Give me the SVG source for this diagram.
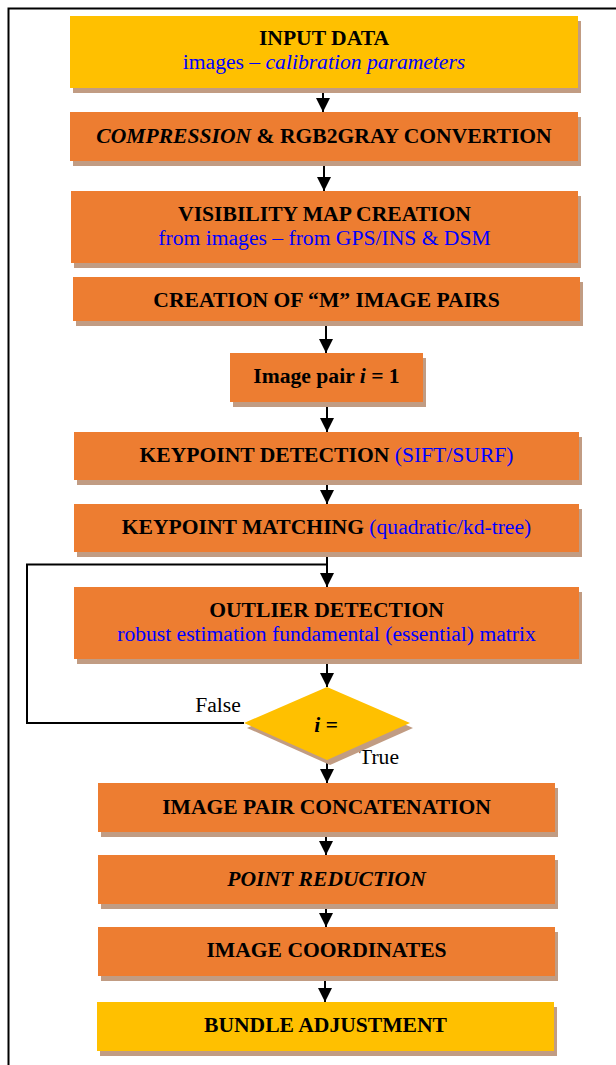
<svg xmlns="http://www.w3.org/2000/svg" width="616" height="1065" viewBox="0 0 616 1065">
<defs>
<style>
text{font-family:"Liberation Serif","Times New Roman",serif;font-size:21.6px;text-anchor:middle;fill:#000}
.b{font-weight:bold}
.i{font-style:italic}
.blue{fill:#0000ff}
.y{fill:#ffc000}
.o{fill:#ed7d31}
.sh{fill:#c19c83}
.ln{fill:none;stroke:#000;stroke-width:2}
</style>
<marker id="ah" markerUnits="userSpaceOnUse" markerWidth="14" markerHeight="14" refX="14" refY="7" orient="auto">
<path d="M0,0 L14,7 L0,14 z" fill="#000"/>
</marker>
</defs>
<rect width="616" height="1065" fill="#fff"/>
<path class="ln" d="M8.5,1065 V8.5 H616"/>

<g id="connectors">
<line class="ln" x1="323" y1="88" x2="323" y2="112" marker-end="url(#ah)"/>
<line class="ln" x1="324" y1="161" x2="324" y2="191" marker-end="url(#ah)"/>
<line class="ln" x1="326" y1="321" x2="326" y2="353" marker-end="url(#ah)"/>
<line class="ln" x1="327" y1="402" x2="327" y2="432" marker-end="url(#ah)"/>
<line class="ln" x1="327" y1="480" x2="327" y2="504" marker-end="url(#ah)"/>
<line class="ln" x1="327" y1="552" x2="327" y2="587" marker-end="url(#ah)"/>
<line class="ln" x1="327" y1="659" x2="327" y2="687" marker-end="url(#ah)"/>
<polyline class="ln" points="244,723 27,723 27,564.5 327,564.5"/>
<line class="ln" x1="327" y1="760" x2="327" y2="783" marker-end="url(#ah)"/>
<line class="ln" x1="326" y1="832" x2="326" y2="855" marker-end="url(#ah)"/>
<line class="ln" x1="326" y1="904" x2="326" y2="927" marker-end="url(#ah)"/>
<line class="ln" x1="325" y1="976" x2="325" y2="1002" marker-end="url(#ah)"/>
<text x="218" y="712">False</text>
<text x="379" y="764">True</text>
</g>

<g id="input-data">
<rect class="sh" x="73" y="21" width="508" height="72"/>
<rect class="y" x="70" y="16" width="508" height="72"/>
<text class="b" x="324" y="45">INPUT DATA</text>
<text class="blue" x="324" y="69">images – <tspan class="i">calibration parameters</tspan></text>
</g>

<g id="compression">
<rect class="sh" x="73" y="117" width="508" height="49"/>
<rect class="o" x="70" y="112" width="508" height="49"/>
<text class="b" x="324" y="143"><tspan class="i">COMPRESSION</tspan> &amp; RGB2GRAY CONVERTION</text>
</g>

<g id="visibility">
<rect class="sh" x="74" y="196" width="507" height="72"/>
<rect class="o" x="71" y="191" width="507" height="72"/>
<text class="b" x="324.5" y="221">VISIBILITY MAP CREATION</text>
<text class="blue" x="324.5" y="245">from images – from GPS/INS &amp; DSM</text>
</g>

<g id="creation-pairs">
<rect class="sh" x="76" y="282" width="507" height="44"/>
<rect class="o" x="73" y="277" width="507" height="44"/>
<text class="b" x="326.5" y="307">CREATION OF “M” IMAGE PAIRS</text>
</g>

<g id="image-pair">
<rect class="sh" x="233" y="358" width="193" height="49"/>
<rect class="o" x="230" y="353" width="193" height="49"/>
<text class="b" x="326.5" y="383">Image pair <tspan class="i">i</tspan> = 1</text>
</g>

<g id="keypoint-detection">
<rect class="sh" x="77" y="437" width="505" height="48"/>
<rect class="o" x="74" y="432" width="505" height="48"/>
<text x="326.5" y="462"><tspan class="b">KEYPOINT DETECTION</tspan> <tspan class="blue">(SIFT/SURF)</tspan></text>
</g>

<g id="keypoint-matching">
<rect class="sh" x="77" y="509" width="505" height="48"/>
<rect class="o" x="74" y="504" width="505" height="48"/>
<text x="326.5" y="534"><tspan class="b">KEYPOINT MATCHING</tspan> <tspan class="blue">(quadratic/kd-tree)</tspan></text>
</g>

<g id="outlier-detection">
<rect class="sh" x="77" y="592" width="505" height="72"/>
<rect class="o" x="74" y="587" width="505" height="72"/>
<text class="b" x="326.5" y="617">OUTLIER DETECTION</text>
<text class="blue" x="326.5" y="641">robust estimation fundamental (essential) matrix</text>
</g>

<g id="decision">
<polygon class="sh" points="330,692 413,728 330,765 247,728"/>
<polygon class="y" points="327,687 410,723 327,760 244,723"/>
<text class="b i" x="326" y="732">i =</text>
</g>

<g id="concatenation">
<rect class="sh" x="101" y="788" width="457" height="49"/>
<rect class="o" x="98" y="783" width="457" height="49"/>
<text class="b" x="326.5" y="814">IMAGE PAIR CONCATENATION</text>
</g>

<g id="point-reduction">
<rect class="sh" x="101" y="860" width="457" height="49"/>
<rect class="o" x="98" y="855" width="457" height="49"/>
<text class="b i" x="326.5" y="886">POINT REDUCTION</text>
</g>

<g id="image-coordinates">
<rect class="sh" x="101" y="932" width="457" height="49"/>
<rect class="o" x="98" y="927" width="457" height="49"/>
<text class="b" x="326.5" y="957">IMAGE COORDINATES</text>
</g>

<g id="bundle-adjustment">
<rect class="sh" x="100" y="1007" width="457" height="49"/>
<rect class="y" x="97" y="1002" width="457" height="49"/>
<text class="b" x="325.5" y="1032">BUNDLE ADJUSTMENT</text>
</g>
</svg>
